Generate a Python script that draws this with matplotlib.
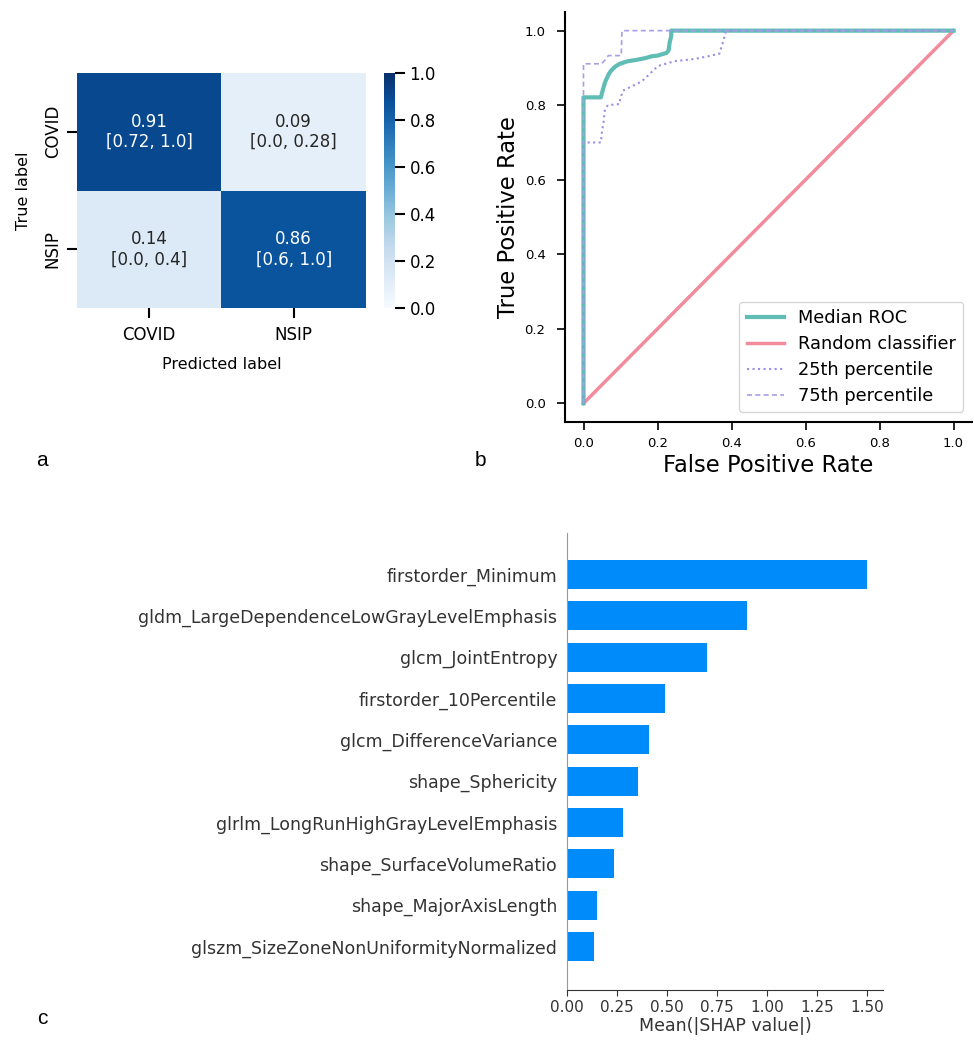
import numpy as np
import matplotlib
matplotlib.use("Agg")
import matplotlib.pyplot as plt
from matplotlib.colors import Normalize

# ---- data ----
cm_classes = ["COVID", "NSIP"]
cm_values = [[0.91, 0.09], [0.14, 0.86]]
cm_ci = [["[0.72, 1.0]", "[0.0, 0.28]"], ["[0.0, 0.4]", "[0.6, 1.0]"]]

median_fpr = [0.0, 0.0, 0.047, 0.052, 0.058, 0.062, 0.066, 0.070, 0.075, 0.085, 0.098, 0.110, 0.120,
              0.140, 0.156, 0.170, 0.183, 0.200, 0.210, 0.224, 0.230, 0.233, 0.237, 0.237, 1.0]
median_tpr = [0.0, 0.821, 0.821, 0.84, 0.861, 0.870, 0.879, 0.886, 0.893, 0.903, 0.911, 0.915, 0.918,
              0.921, 0.924, 0.927, 0.931, 0.933, 0.936, 0.940, 0.947, 0.969, 0.985, 1.0, 1.0]

p25_fpr = [0.0, 0.0, 0.047, 0.050, 0.054, 0.058, 0.066, 0.097, 0.100, 0.107, 0.129, 0.156, 0.170,
           0.183, 0.201, 0.246, 0.300, 0.336, 0.367, 0.377, 0.385, 1.0]
p25_tpr = [0.0, 0.70, 0.70, 0.73, 0.753, 0.789, 0.80, 0.803, 0.82, 0.839, 0.85, 0.863, 0.875,
           0.888, 0.905, 0.918, 0.924, 0.931, 0.938, 0.969, 1.0, 1.0]

p75_fpr = [0.0, 0.0, 0.049, 0.057, 0.067, 0.102, 0.104, 1.0]
p75_tpr = [0.0, 0.911, 0.911, 0.92, 0.933, 0.933, 1.0, 1.0]

random_fpr = [0.0, 1.0]
random_tpr = [0.0, 1.0]

roc_labels = ["Median ROC", "Random classifier", "25th percentile", "75th percentile"]

shap_features = ["firstorder_Minimum", "gldm_LargeDependenceLowGrayLevelEmphasis",
                 "glcm_JointEntropy", "firstorder_10Percentile", "glcm_DifferenceVariance",
                 "shape_Sphericity", "glrlm_LongRunHighGrayLevelEmphasis",
                 "shape_SurfaceVolumeRatio", "shape_MajorAxisLength",
                 "glszm_SizeZoneNonUniformityNormalized"]
shap_values = [1.50, 0.90, 0.70, 0.49, 0.41, 0.355, 0.28, 0.235, 0.15, 0.135]
shap_xticks = [0.00, 0.25, 0.50, 0.75, 1.00, 1.25, 1.50]

# ---- figure ----
W, H = 974, 1054
fig = plt.figure(figsize=(W / 100, H / 100), dpi=100)

def rect(l, t, r, b):
    return [l / W, 1 - b / H, (r - l) / W, (b - t) / H]

# Panel a: confusion matrix
ax_a = fig.add_axes(rect(77, 73, 366, 308))
cax = fig.add_axes(rect(384, 73, 395, 308))
cmap = plt.get_cmap("Blues")
norm = Normalize(0, 1)
arr = np.array(cm_values)
mesh = ax_a.pcolormesh(np.arange(3), np.arange(3), arr, cmap=cmap, norm=norm)
ax_a.set_xlim(0, 2)
ax_a.set_ylim(2, 0)
for i in range(2):
    for j in range(2):
        v = arr[i, j]
        col = "white" if v > 0.5 else "#262626"
        ax_a.text(j + 0.5, i + 0.5, f"{v:.2f}\n{cm_ci[i][j]}", ha="center", va="center",
                  fontsize=12, color=col, linespacing=1.15)
ax_a.set_xticks([0.5, 1.5])
ax_a.set_xticklabels(cm_classes, fontsize=12)
ax_a.set_yticks([0.5, 1.5])
ax_a.set_yticklabels(cm_classes, fontsize=12, rotation=90, va="center")
ax_a.tick_params(length=7, width=1.5, pad=4)
ax_a.tick_params(axis="x", pad=6)
for s in ax_a.spines.values():
    s.set_visible(False)
ax_a.set_xlabel("Predicted label", fontsize=11.5, labelpad=9)
ax_a.set_ylabel("True label", fontsize=11.5, labelpad=9)
cb = fig.colorbar(mesh, cax=cax)
cb.outline.set_visible(False)
cb.set_ticks([0.0, 0.2, 0.4, 0.6, 0.8, 1.0])
cb.ax.tick_params(length=7, width=1.5, labelsize=12)

# Panel b: ROC
ax_b = fig.add_axes(rect(565, 12, 972, 422))
ax_b.plot(median_fpr, median_tpr, color="#5fbdb5", lw=3, label=roc_labels[0], zorder=3)
ax_b.plot(random_fpr, random_tpr, color="#f28b9c", lw=2.5, label=roc_labels[1], zorder=2)
ax_b.plot(p25_fpr, p25_tpr, color="#9b8de6", lw=1.5, ls=":", label=roc_labels[2], zorder=4)
ax_b.plot(p75_fpr, p75_tpr, color="#a99de6", lw=1.2, ls="--", dashes=(3, 2), label=roc_labels[3], zorder=4)
ax_b.set_xlim(-0.05, 1.05)
ax_b.set_ylim(-0.05, 1.05)
ax_b.set_xticks([0, 0.2, 0.4, 0.6, 0.8, 1.0])
ax_b.set_yticks([0, 0.2, 0.4, 0.6, 0.8, 1.0])
ax_b.tick_params(labelsize=9.5, length=6, width=1.2)
ax_b.tick_params(axis="y", pad=8)
ax_b.tick_params(axis="x", pad=5)
ax_b.spines["top"].set_visible(False)
ax_b.spines["right"].set_visible(False)
ax_b.spines["left"].set_linewidth(1.5)
ax_b.spines["bottom"].set_linewidth(1.5)
ax_b.set_xlabel("False Positive Rate", fontsize=16.3, labelpad=3)
ax_b.set_ylabel("True Positive Rate", fontsize=16.3, labelpad=3)
ax_b.legend(loc="lower right", fontsize=12.8, frameon=True, handlelength=2.1,
            borderpad=0.4, labelspacing=0.45, bbox_to_anchor=(1.0, 0.003))

# Panel c: SHAP bar
ax_c = fig.add_axes(rect(567, 533, 883, 990))
n = len(shap_features)
ypos = np.arange(n)[::-1]
ax_c.barh(ypos, shap_values, height=0.7, color="#008bfb")
ax_c.set_yticks(ypos)
ax_c.set_yticklabels(shap_features, fontsize=12.5, color="#333333")
ax_c.tick_params(axis="y", length=0, pad=7)
ax_c.set_ylim(-1.05, n)
ax_c.set_xlim(0, 1.58)
ax_c.set_xticks(shap_xticks)
ax_c.set_xticklabels([f"{t:.2f}" for t in shap_xticks], fontsize=11, color="#333333")
ax_c.tick_params(axis="x", color="#333333", length=4)
ax_c.spines["top"].set_visible(False)
ax_c.spines["right"].set_visible(False)
ax_c.spines["left"].set_color("#999999")
ax_c.spines["bottom"].set_color("#333333")
ax_c.set_xlabel("Mean(|SHAP value|)", fontsize=12.5, color="#333333", labelpad=1)

# panel letters
for lbl, x, y in [("a", 42, 460), ("b", 480, 460), ("c", 42, 1018)]:
    fig.text(x / W, 1 - y / H, lbl, fontsize=15, family="Liberation Sans",
             ha="center", va="center")

fig.savefig("out.png", dpi=100)
